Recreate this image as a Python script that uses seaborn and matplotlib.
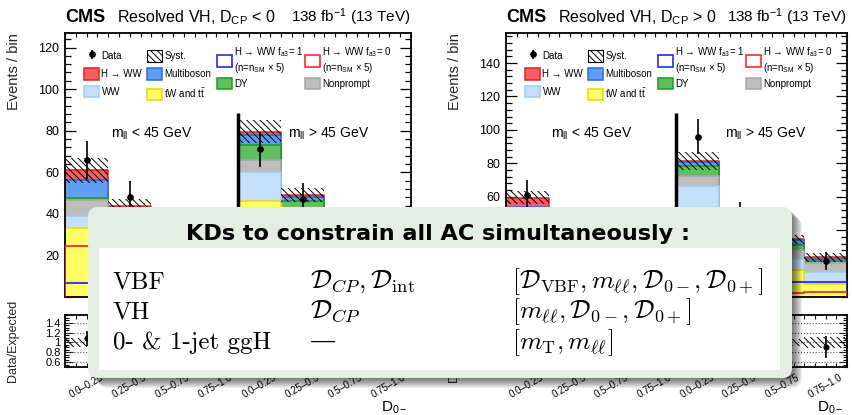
import numpy as np
import pandas as pd
import matplotlib
matplotlib.use("Agg")
import matplotlib.pyplot as plt
import matplotlib.transforms as mtransforms
from matplotlib.patches import Patch, FancyBboxPatch, Rectangle
from matplotlib.legend import Legend
from matplotlib.ticker import MultipleLocator
import seaborn as sns

# 8 bins: (m_ll < 45, m_ll > 45) x 4 bins of D_0-
bin_labels = ["0.0\u20130.25", "0.25\u20130.5", "0.5\u20130.75", "0.75\u20131.0"] * 2
proc_names = ["tW and t$\\bar{\\mathrm{t}}$", "WW", "Nonprompt", "DY", "Multiboson", "H \u2192 WW"]

# D_CP < 0
neg_top = [33, 20, 15, 12, 46, 25, 18, 12]
neg_ww = [6, 6, 5, 4, 14, 10, 7, 5]
neg_nonprompt = [7.5, 8, 5, 4, 6, 5, 4, 3]
neg_dy = [1, 2, 2, 1.5, 7, 6, 4, 3]
neg_multiboson = [9, 6, 4, 3, 5, 2, 2, 1.5]
neg_hww = [4.5, 2, 1.5, 1, 1.5, 1, 0.7, 0.5]
neg_syst = [6, 3, 2.5, 2, 5.5, 3.5, 2.5, 2]
neg_data = [66, 48, 36, 24, 71, 47, 33, 27]
neg_data_err = [9, 8, 7, 5, 8.5, 8, 6, 5]
neg_fa3_1 = [6.7, 5, 4, 3, 8, 6, 5, 4]
neg_fa3_0 = [24.6, 18, 12, 8, 20, 14, 10, 6]

# D_CP > 0
pos_top = [30, 20, 15, 12, 45, 25, 16, 7.8]
pos_ww = [8, 6, 5, 4, 21.6, 10, 7, 7]
pos_nonprompt = [7, 6, 4, 3.5, 6, 5, 5, 5.5]
pos_dy = [2, 2, 2, 1.5, 6, 5, 3, 1]
pos_multiboson = [7, 4, 3, 2.5, 2.4, 2, 3, 1.5]
pos_hww = [5.4, 2, 1.5, 1, 0.6, 0.6, 0.5, 1]
pos_syst = [4, 3, 2.5, 2, 5.4, 3.5, 2.5, 2.7]
pos_data = [61, 42, 29, 26, 96, 50, 33, 21.6]
pos_data_err = [9, 7, 6, 5, 10.5, 7, 6, 5.5]
pos_fa3_1 = [8, 6, 5, 4, 9, 8, 9, 9]
pos_fa3_0 = [22, 15, 10, 6, 18, 10, 2.4, 3]

divider_top = [88.7, 110]

face = ["#ffff66", "#c4dffa", "#bdbdbd", "#5fbf5f", "#5e9ef5", "#f56060"]
edge = ["#e8d800", "#a3cbf2", "#a6a6a6", "#1f9a1f", "#2a6be0", "#e82020"]
HATCH = "\\\\\\\\\\"

sns.set_theme(style="ticks")
plt.rcParams.update({
    "font.family": ["Liberation Sans", "DejaVu Sans"],
    "mathtext.fontset": "custom",
    "mathtext.rm": "Liberation Sans",
    "mathtext.it": "Liberation Sans:italic",
    "mathtext.bf": "Liberation Sans:bold",
    "hatch.linewidth": 0.7,
    "axes.edgecolor": "black",
    "axes.linewidth": 1.3,
    "xtick.color": "black",
    "ytick.color": "black",
    "text.color": "black",
})

W, H = 853, 415
fig = plt.figure(figsize=(W / 100, H / 100), dpi=100)


def frac(x0, y0, x1, y1):
    return [x0 / W, 1 - y1 / H, (x1 - x0) / W, (y1 - y0) / H]


def px(x, y):
    return (x / W, 1 - y / H)


centers = np.arange(8) + 0.5
edges = np.arange(9)

panels = [
    dict(left=65, right=411, ymax=127, yt=[20, 40, 60, 80, 100, 120], sign="<",
         comps=[neg_top, neg_ww, neg_nonprompt, neg_dy, neg_multiboson, neg_hww],
         syst=neg_syst, data=neg_data, err=neg_data_err, s1=neg_fa3_1, s0=neg_fa3_0,
         div=divider_top[0], res_x=0.150),
    dict(left=506, right=847, ymax=158, yt=[20, 40, 60, 80, 100, 120, 140], sign=">",
         comps=[pos_top, pos_ww, pos_nonprompt, pos_dy, pos_multiboson, pos_hww],
         syst=pos_syst, data=pos_data, err=pos_data_err, s1=pos_fa3_1, s0=pos_fa3_0,
         div=divider_top[1], res_x=0.152),
]

for p in panels:
    ax = fig.add_axes(frac(p["left"], 33, p["right"], 297))
    rax = fig.add_axes(frac(p["left"], 315, p["right"], 367))
    width = p["right"] - p["left"]

    cum = np.cumsum(np.array(p["comps"], dtype=float), axis=0)
    df = pd.DataFrame({
        "bin": np.tile(centers, len(cum)),
        "events": cum.ravel(),
        "layer": np.repeat(np.arange(len(cum)), 8),
    })
    # draw the stack from the top down so each layer shows its own slice
    for i in reversed(range(len(cum))):
        sns.histplot(data=df[df["layer"] == i], x="bin", weights="events",
                     binwidth=1, binrange=(0, 8),
                     element="step", fill=True, color=face[i], edgecolor=edge[i],
                     linewidth=1.1, alpha=1, ax=ax, zorder=2)
    total = cum[-1]
    syst = np.array(p["syst"])
    ax.bar(centers, 2 * syst, bottom=total - syst, width=1, fill=False, hatch=HATCH,
           edgecolor="black", linewidth=0, zorder=3)
    ax.stairs(p["s1"], edges, color="#1f2fe8", linewidth=1.3, zorder=4)
    ax.stairs(p["s0"], edges, color="#ff2a2a", linewidth=1.3, zorder=4)
    ax.vlines(4, 0, p["div"], color="black", linewidth=2.5, zorder=5)
    eb = ax.errorbar(centers, p["data"], yerr=p["err"], fmt="o", color="black", ms=3.8,
                     elinewidth=1.2, capsize=0, zorder=6)

    ax.set_xlim(0, 8)
    ax.set_ylim(0, p["ymax"])
    ax.set_yticks(p["yt"])
    ax.yaxis.set_minor_locator(MultipleLocator(4))
    ax.set_xticks(np.arange(0, 8.01, 0.25))
    ax.set_xlabel("")
    ax.set_ylabel("Events / bin", fontsize=10.5, loc="top")
    ax.yaxis.set_label_coords(-44 / width, 1.0)
    ax.tick_params(axis="x", which="both", direction="in", top=True, bottom=True,
                   labelbottom=False, length=3, width=0.8)
    ax.tick_params(axis="y", which="both", direction="in", left=True, right=True,
                   labelsize=9, pad=4, width=0.9)
    ax.tick_params(axis="y", which="major", length=8)
    ax.tick_params(axis="y", which="minor", length=4)

    # titles
    ax.text(0, 1.042, "CMS", transform=ax.transAxes, fontsize=13, fontweight="bold",
            va="baseline", ha="left")
    ax.text(p["res_x"], 1.042, "Resolved VH, D$_{\\mathrm{CP}}$ " + p["sign"] + " 0",
            transform=ax.transAxes, fontsize=11.5, va="baseline", ha="left")
    ax.text(1.0, 1.042, "138 fb$^{-1}$ (13 TeV)", transform=ax.transAxes, fontsize=11,
            va="baseline", ha="right")
    mixed = mtransforms.blended_transform_factory(ax.transData, ax.transAxes)
    ax.text(2.0, 0.617, "m$_{\\mathrm{ll}}$ < 45 GeV", transform=mixed,
            fontsize=10, ha="center", va="center")
    ax.text(6.1, 0.617, "m$_{\\mathrm{ll}}$ > 45 GeV", transform=mixed,
            fontsize=10, ha="center", va="center")

    # legend, one column at a time so the rows line up like ROOT
    h = [Patch(facecolor=face[i], edgecolor=edge[i], linewidth=1.1) for i in range(6)]
    h_syst = Patch(facecolor="white", edgecolor="black", hatch=HATCH, linewidth=0.8)
    h_s1 = Patch(facecolor="white", edgecolor="#1f2fe8", linewidth=1.2)
    h_s0 = Patch(facecolor="white", edgecolor="#ff2a2a", linewidth=1.2)
    cols = [
        ([eb, h[5], h[1]], ["Data", proc_names[5], proc_names[1]], 19, 50, 0.66),
        ([h_syst, h[4], h[0]], ["Syst.", proc_names[4], proc_names[0]], 82, 50, 0.66),
        ([h_s1, h[3]], ["H \u2192 WW f$_{\\mathrm{a3}}$= 1\n(n=n$_{\\mathrm{SM}}$ \u00d7 5)", proc_names[3]], 152, 45.5, 0.25),
        ([h_s0, h[2]], ["H \u2192 WW f$_{\\mathrm{a3}}$= 0\n(n=n$_{\\mathrm{SM}}$ \u00d7 5)", proc_names[2]], 240, 45.5, 0.25),
    ]
    for hs, ls, xo, yo, sp in cols:
        leg = Legend(ax, hs, ls, loc="upper left", bbox_to_anchor=px(p["left"] + xo, yo),
                     bbox_transform=fig.transFigure, frameon=False, fontsize=7,
                     handlelength=1.55, handleheight=1.45, handletextpad=0.25,
                     borderpad=0, borderaxespad=0, labelspacing=sp)
        ax.add_artist(leg)

    # ratio panel
    ratio = np.array(p["data"]) / total
    ratio_err = np.array(p["err"]) / total
    rel = syst / total
    rax.bar(centers, 2 * rel, bottom=1 - rel, width=1, fill=False, hatch=HATCH,
            edgecolor="black", linewidth=0, zorder=3)
    for v in [0.6, 0.8, 1.0, 1.2, 1.4]:
        rax.axhline(v, ls=":", color="0.35", lw=0.8, zorder=1)
    sns.scatterplot(x=centers, y=ratio, color="black", s=16, ax=rax, zorder=6, edgecolor="black")
    rax.errorbar(centers, ratio, yerr=ratio_err, fmt="none", ecolor="black", elinewidth=1.2,
                 capsize=0, zorder=6)
    rax.set_xlim(0, 8)
    rax.set_ylim(0.5, 1.56)
    rax.set_yticks([0.6, 0.8, 1.0, 1.2, 1.4], labels=["0.6", "0.8", "1", "1.2", "1.4"])
    rax.yaxis.set_minor_locator(MultipleLocator(0.05))
    rax.set_xticks(np.arange(0, 8.01, 0.25))
    rax.tick_params(axis="x", which="both", direction="in", top=True, bottom=True,
                    labelbottom=False, length=3, width=0.8)
    rax.tick_params(axis="y", which="both", direction="in", left=True, right=True,
                    labelsize=8, pad=3, width=0.8)
    rax.tick_params(axis="y", which="major", length=6)
    rax.tick_params(axis="y", which="minor", length=3)
    rax.set_ylabel("Data/Expected", fontsize=9)
    rax.yaxis.set_label_coords(-46 / width, 0.5)
    off = mtransforms.ScaledTranslation(13 / 100, -5 / 100, fig.dpi_scale_trans)
    for c, lab in zip(centers, bin_labels):
        rax.text(c, 0, lab, transform=rax.get_xaxis_transform() + off, rotation=30,
                 rotation_mode="anchor", ha="right", va="top", fontsize=7)
    rax.text(1.0, 0, "D$_{0-}$", transform=rax.transAxes +
             mtransforms.ScaledTranslation(-3 / 100, -33 / 100, fig.dpi_scale_trans),
             ha="right", va="top", fontsize=11)

# overlay slide box
ov = fig.add_axes([0, 0, 1, 1])
ov.set_zorder(10)
ov.set_xlim(0, W)
ov.set_ylim(H, 0)
ov.axis("off")
bx0, by0, bx1, by1 = 88, 207, 792, 378
for d in range(1, 11):
    ov.add_patch(FancyBboxPatch((bx0 + d, by0 + d), bx1 - bx0, by1 - by0,
                                boxstyle="round,pad=0,rounding_size=10",
                                facecolor="black", edgecolor="none", alpha=0.065))
ov.add_patch(FancyBboxPatch((bx0, by0), bx1 - bx0, by1 - by0,
                            boxstyle="round,pad=0,rounding_size=10",
                            facecolor="#e4efe4", edgecolor="none"))
ov.add_patch(Rectangle((99, 248), 780 - 99, 370 - 248, facecolor="white", edgecolor="none"))
ov.text(438, 240, "KDs to constrain all AC simultaneously :", fontfamily="DejaVu Sans",
        fontweight="bold", fontsize=16.1, ha="center", va="baseline")

rows = [
    ("VBF", r"$\mathcal{D}_{CP}, \mathcal{D}_{\mathrm{int}}$",
     r"$[\mathcal{D}_{\mathrm{VBF}}, m_{\ell\ell}, \mathcal{D}_{0-}, \mathcal{D}_{0+}]$"),
    ("VH", r"$\mathcal{D}_{CP}$", r"$[m_{\ell\ell}, \mathcal{D}_{0-}, \mathcal{D}_{0+}]$"),
    ("0- & 1-jet ggH", "\u2014", r"$[m_{\mathrm{T}}, m_{\ell\ell}]$"),
]
row_y = [288, 318, 349]
for (c1, c2, c3), y in zip(rows, row_y):
    ov.text(113, y, c1, fontfamily=["cmr10", "DejaVu Serif"], fontsize=18, va="baseline")
    ov.text(310, y, c2, fontfamily=["cmr10", "DejaVu Serif"], math_fontfamily="cm",
            fontsize=19, va="baseline")
    ov.text(512, y, c3, math_fontfamily="cm", fontsize=18.5, va="baseline")

fig.savefig("out.png", dpi=100)
